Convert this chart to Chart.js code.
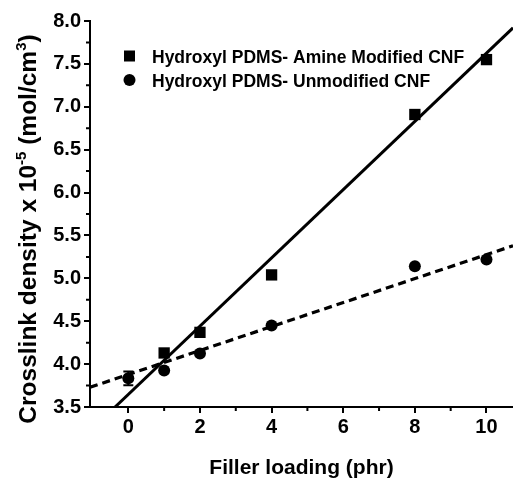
<!DOCTYPE html>
<html><head><meta charset="utf-8">
<script src="https://cdn.jsdelivr.net/npm/chart.js@4/dist/chart.umd.min.js"></script>
<style>html,body{margin:0;padding:0;background:#fff}canvas{display:block}</style>
</head><body>
<canvas id="c" width="513" height="481" style="width:513px;height:481px"></canvas>
<script>
// ---- data ----
const loadingAmine = [1, 2, 4, 8, 10];
const densityAmine = [4.13, 4.37, 5.04, 6.91, 7.55];
const loadingUnmod = [0, 1, 2, 4, 8, 10];
const densityUnmod = [3.835, 3.925, 4.125, 4.45, 5.14, 5.22];
const errorUnmod   = [0.08, 0, 0, 0, 0, 0];
const fitAmineX = [-0.37, 10.74];
const fitAmineY = [3.5, 7.92];
const fitUnmodX = [-1.07, 10.74];
const fitUnmodY = [3.73, 5.38];
const xTicks = [0, 2, 4, 6, 8, 10];
const xMinorTicks = [1, 3, 5, 7, 9];
const yTicks = [3.5, 4.0, 4.5, 5.0, 5.5, 6.0, 6.5, 7.0, 7.5, 8.0];
const yMinorTicks = [3.75, 4.25, 4.75, 5.25, 5.75, 6.25, 6.75, 7.25, 7.75];
const seriesNames = ['Hydroxyl PDMS- Amine Modified CNF', 'Hydroxyl PDMS- Unmodified CNF'];
const xTitle = 'Filler loading (phr)';

const FONT = '"Liberation Sans", Arial, Helvetica, sans-serif';
const toPts = (xs, ys) => xs.map((x, i) => ({x: x, y: ys[i]}));

const minorTicks = {
  id: 'minorTicks',
  afterDraw(chart) {
    const ctx = chart.ctx, xs = chart.scales.x, ys = chart.scales.y, a = chart.chartArea;
    ctx.save();
    ctx.strokeStyle = '#000'; ctx.lineWidth = 2;
    ctx.beginPath();
    xMinorTicks.forEach(v => { const p = xs.getPixelForValue(v); ctx.moveTo(p, a.bottom); ctx.lineTo(p, a.bottom + 4); });
    yMinorTicks.forEach(v => { const p = ys.getPixelForValue(v); ctx.moveTo(a.left, p); ctx.lineTo(a.left - 4, p); });
    ctx.stroke();
    ctx.restore();
  }
};

const errorBars = {
  id: 'errorBars',
  afterDatasetsDraw(chart) {
    const ctx = chart.ctx, xs = chart.scales.x, ys = chart.scales.y;
    ctx.save();
    ctx.strokeStyle = '#000'; ctx.lineWidth = 2;
    errorUnmod.forEach((e, i) => {
      if (!e) return;
      const px = xs.getPixelForValue(loadingUnmod[i]);
      const t = ys.getPixelForValue(densityUnmod[i] + e), b = ys.getPixelForValue(densityUnmod[i] - e);
      ctx.beginPath();
      ctx.moveTo(px, t); ctx.lineTo(px, b);
      ctx.moveTo(px - 5, t); ctx.lineTo(px + 5, t);
      ctx.moveTo(px - 5, b); ctx.lineTo(px + 5, b);
      ctx.stroke();
    });
    ctx.restore();
  }
};

const legendAndTitle = {
  id: 'legendAndTitle',
  afterDraw(chart) {
    const ctx = chart.ctx;
    ctx.save();
    ctx.fillStyle = '#000';
    // legend
    ctx.font = 'bold 17.5px ' + FONT;
    ctx.textBaseline = 'alphabetic'; ctx.textAlign = 'left';
    const rows = [{y: 56, style: 'rect'}, {y: 80, style: 'circle'}];
    rows.forEach((r, i) => {
      if (r.style === 'rect') { ctx.fillRect(124, r.y - 5.5, 11, 11); }
      else { ctx.beginPath(); ctx.arc(129.5, r.y, 6, 0, Math.PI * 2); ctx.fill(); }
      ctx.fillText(seriesNames[i], 152, r.y + 6.5);
    });
    // y axis title (rotated, with superscripts)
    const parts = [
      {t: 'Crosslink density x 10', sup: false},
      {t: '-5', sup: true},
      {t: ' (mol/cm', sup: false},
      {t: '3', sup: true},
      {t: ')', sup: false}
    ];
    const big = 'bold 24.5px ' + FONT, small = 'bold 15px ' + FONT;
    let total = 0;
    parts.forEach(p => { ctx.font = p.sup ? small : big; p.w = ctx.measureText(p.t).width; total += p.w; });
    ctx.translate(36, 229);
    ctx.rotate(-Math.PI / 2);
    let x = -total / 2;
    parts.forEach(p => {
      ctx.font = p.sup ? small : big;
      ctx.fillText(p.t, x, p.sup ? -10 : 0);
      x += p.w;
    });
    ctx.restore();
  }
};

const tickFont = {family: FONT, size: 20, weight: 'bold'};

new Chart(document.getElementById('c'), {
  type: 'scatter',
  data: {
    datasets: [
      {label: seriesNames[0], data: toPts(loadingAmine, densityAmine), pointStyle: 'rect', pointRadius: 8, pointHoverRadius: 8,
        backgroundColor: '#000', borderColor: '#000', borderWidth: 0},
      {label: seriesNames[1], data: toPts(loadingUnmod, densityUnmod), pointStyle: 'circle', pointRadius: 6, pointHoverRadius: 6,
        backgroundColor: '#000', borderColor: '#000', borderWidth: 0},
      {label: 'fit amine', data: toPts(fitAmineX, fitAmineY), showLine: true, pointRadius: 0,
        borderColor: '#000', borderWidth: 3, fill: false},
      {label: 'fit unmod', data: toPts(fitUnmodX, fitUnmodY), showLine: true, pointRadius: 0,
        borderColor: '#000', borderWidth: 3.2, borderDash: [8, 5], fill: false}
    ]
  },
  options: {
    responsive: false,
    animation: false,
    devicePixelRatio: 1,
    layout: {padding: {top: 21, left: 0, right: 0, bottom: 0}, autoPadding: false},
    plugins: {legend: {display: false}, tooltip: {enabled: false}},
    scales: {
      x: {
        type: 'linear', min: -1.07, max: 10.74,
        afterBuildTicks: s => { s.ticks = xTicks.map(v => ({value: v})); },
        afterFit: s => { s.height = 74; },
        grid: {drawOnChartArea: false, drawTicks: true, tickLength: 6, lineWidth: 2, color: '#000'},
        border: {display: true, color: '#000', width: 2},
        ticks: {color: '#000', font: tickFont, padding: 2, maxRotation: 0, autoSkip: false},
        title: {display: true, text: xTitle, color: '#000', font: {family: FONT, size: 21, weight: 'bold'}, padding: 0}
      },
      y: {
        type: 'linear', min: 3.5, max: 8.0,
        afterBuildTicks: s => { s.ticks = yTicks.map(v => ({value: v})); },
        afterFit: s => { s.width = 90; },
        grid: {drawOnChartArea: false, drawTicks: true, tickLength: 6, lineWidth: 2, color: '#000'},
        border: {display: true, color: '#000', width: 2},
        ticks: {color: '#000', font: tickFont, padding: 3, autoSkip: false, callback: v => v.toFixed(1)}
      }
    }
  },
  plugins: [minorTicks, errorBars, legendAndTitle]
});
</script>
</body></html>
